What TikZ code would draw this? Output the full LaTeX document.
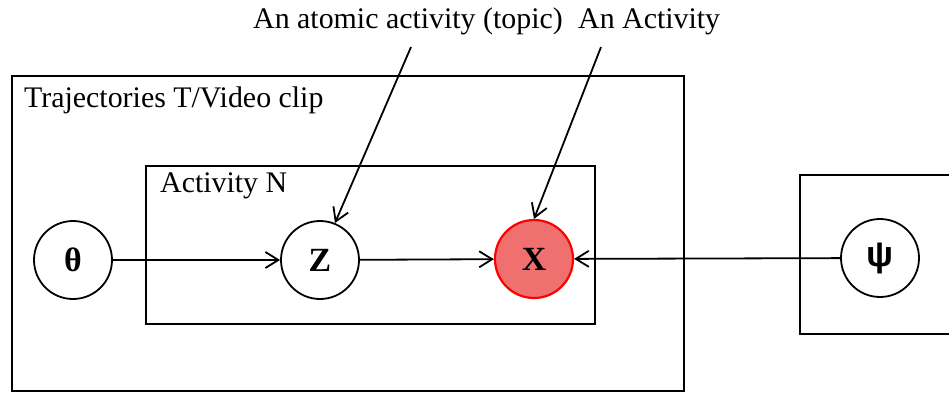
\documentclass[tikz,border=0pt]{standalone}
\usepackage{fontspec}
\setmainfont{Liberation Serif}
\newfontfamily\greeksans{Liberation Sans}
\usetikzlibrary{arrows.meta, positioning}
\definecolor{colRed600}{HTML}{FF0000}
\definecolor{colRed300}{HTML}{F07070}
\tikzset{
  plate/.style={
    draw, line width=2bp, inner sep=0pt, anchor=north west
  },
  var/.style={
    draw, circle, line width=1.8bp, minimum size=78bp,
    inner sep=0pt, font=\fontsize{34}{40}\selectfont\bfseries
  },
  obs/.style={var, fill=colRed300, draw=colRed600, line width=2.2bp},
  lbl/.style={anchor=base west, inner sep=0pt, font=\fontsize{30}{35}\selectfont},
  dep/.style={
    -{Straight Barb[length=13bp,width=16bp]},
    line width=1.8bp
  }
}
\begin{document}
\begin{tikzpicture}[x=1bp, y=-1bp]
  \useasboundingbox (0,0) rectangle (949,392);
  % plates
  \node[plate, minimum width=672bp, minimum height=315bp] (clip)     at (11,75)   {};
  \node[plate, minimum width=449bp, minimum height=158bp] (activity) at (145,165) {};
  \node[plate, minimum width=170bp, minimum height=159bp] (prior)    at (799,174) {};
  \node[lbl] (cliplbl)  at (24,107)  {Trajectories T/Video clip};
  \node[lbl] (actlbl)   at (160,192) {Activity N};
  \node[lbl] (topiclbl) at (253,28)  {An atomic activity (topic)};
  \node[lbl] (obslbl)   at (578,28)  {An Activity};
  % variables
  \node[var] (theta) at (73,260)  {θ};
  \node[var] (z)     at (320,260) {Z};
  \node[obs] (x)     at (534,259) {X};
  \node[var, font=\fontsize{36}{40}\greeksans\bfseries] (psi) at (880,258) {ψ};
  % edges
  \draw[dep] (theta) -- (z);
  \draw[dep] (z) -- (x);
  \draw[dep] (psi) -- (x);
  \coordinate (topicfrom) at (411,47);
  \coordinate (obsfrom)   at (601,47);
  \draw[dep] (topicfrom) -- (z.68);
  \draw[dep] (obsfrom) -- (x.north);
\end{tikzpicture}
\end{document}
